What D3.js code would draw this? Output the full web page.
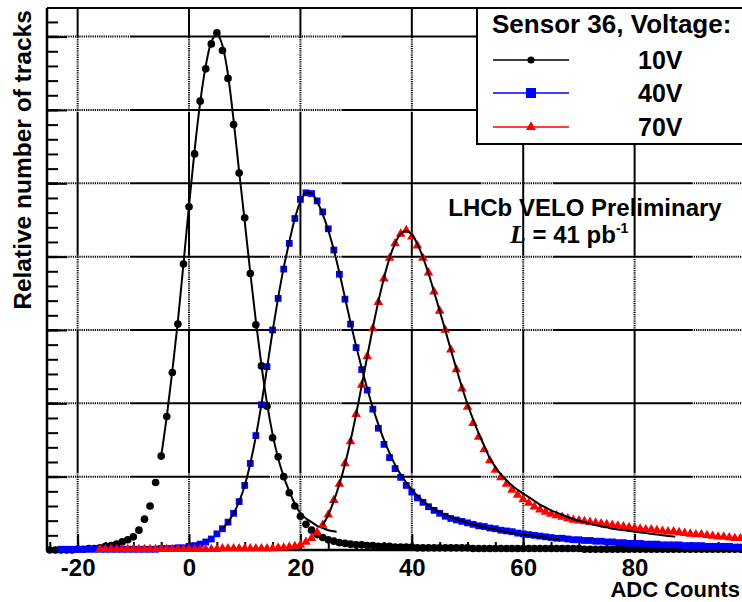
<!DOCTYPE html>
<html>
<head>
<meta charset="utf-8">
<script src="https://cdn.jsdelivr.net/npm/d3@7"></script>
<style>
  body { margin: 0; background: #fff; }
  svg { display: block; }
  text { font-family: "Liberation Sans", Arial, Helvetica, sans-serif; font-weight: bold; fill: #000; }
</style>
</head>
<body>
<svg id="chart"></svg>
<script>

// ---- data, one bin per ADC count ----
var bins10 = d3.range(-25, 100);   // 10V histogram starts at -25
var bins40 = d3.range(-23, 100);   // 40V starts at -23
var bins70 = d3.range(-16, 100);   // 70V starts at -16

var counts10 = [
  0.00, 0.00, 0.00, 0.00, 0.00, 0.01, 0.01, 0.02, 0.02, 0.03,   // -25..-16
  0.05, 0.06, 0.08, 0.11, 0.14, 0.18, 0.27, 0.42, 0.60, 0.92,   // -15..-6
  1.28, 1.82, 2.42, 3.08, 3.90, 4.68, 5.40, 6.12, 6.56, 6.90,   // -5..4
  7.05, 6.81, 6.43, 5.80, 5.14, 4.53, 3.77, 3.07, 2.51, 1.96,   // 5..14
  1.53, 1.27, 1.00, 0.78, 0.60, 0.46, 0.35, 0.27, 0.21, 0.17,   // 15..24
  0.14, 0.12, 0.10, 0.09, 0.08, 0.07, 0.07, 0.06, 0.06, 0.05,   // 25..34
  0.05, 0.05, 0.04, 0.04, 0.04, 0.04, 0.03, 0.03, 0.03, 0.03,   // 35..44
  0.03, 0.03, 0.03, 0.03, 0.03, 0.03, 0.02, 0.02, 0.02, 0.02,   // 45..54
  0.02, 0.02, 0.02, 0.02, 0.02, 0.02, 0.02, 0.02, 0.02, 0.02,   // 55..64
  0.02, 0.02, 0.02, 0.02, 0.02, 0.02, 0.01, 0.01, 0.01, 0.01,   // 65..74
  0.01, 0.01, 0.01, 0.01, 0.01, 0.01, 0.01, 0.01, 0.01, 0.01,   // 75..84
  0.01, 0.01, 0.01, 0.01, 0.01, 0.01, 0.01, 0.01, 0.01, 0.01,   // 85..94
  0.01, 0.01, 0.01, 0.01, 0.01                                  // 95..99
];

var counts40 = [
  0.01, 0.01, 0.01, 0.01, 0.01, 0.01, 0.01, 0.01,               // -23..-16
  0.01, 0.01, 0.01, 0.01, 0.01, 0.01, 0.01, 0.01, 0.01, 0.01,   // -15..-6
  0.02, 0.02, 0.02, 0.03, 0.03, 0.05, 0.06, 0.08, 0.11, 0.15,   // -5..4
  0.22, 0.29, 0.38, 0.50, 0.66, 0.88, 1.18, 1.56, 1.98, 2.50,   // 5..14
  3.00, 3.43, 3.83, 4.18, 4.52, 4.78, 4.87, 4.86, 4.76, 4.61,   // 15..24
  4.38, 4.09, 3.76, 3.42, 3.08, 2.76, 2.46, 2.18, 1.92, 1.66,   // 25..34
  1.44, 1.26, 1.11, 0.99, 0.88, 0.79, 0.71, 0.65, 0.59, 0.54,   // 35..44
  0.50, 0.46, 0.43, 0.41, 0.39, 0.37, 0.35, 0.33, 0.32, 0.30,   // 45..54
  0.29, 0.27, 0.26, 0.25, 0.23, 0.22, 0.21, 0.20, 0.19, 0.18,   // 55..64
  0.17, 0.16, 0.16, 0.15, 0.14, 0.14, 0.13, 0.13, 0.12, 0.12,   // 65..74
  0.11, 0.11, 0.10, 0.10, 0.09, 0.09, 0.09, 0.08, 0.08, 0.08,   // 75..84
  0.07, 0.07, 0.07, 0.07, 0.06, 0.06, 0.06, 0.06, 0.05, 0.05,   // 85..94
  0.05, 0.05, 0.05, 0.04, 0.04                                  // 95..99
];

var counts70 = [
  0.01,                                                         // -16
  0.01, 0.01, 0.01, 0.01, 0.01, 0.01, 0.01, 0.01, 0.01, 0.01,   // -15..-6
  0.01, 0.01, 0.01, 0.01, 0.01, 0.01, 0.01, 0.01, 0.01, 0.01,   // -5..4
  0.01, 0.02, 0.02, 0.02, 0.02, 0.02, 0.02, 0.02, 0.02, 0.02,   // 5..14
  0.02, 0.03, 0.03, 0.04, 0.05, 0.07, 0.11, 0.16, 0.24, 0.34,   // 15..24
  0.48, 0.68, 0.90, 1.18, 1.48, 1.85, 2.25, 2.64, 3.02, 3.38,   // 25..34
  3.70, 3.98, 4.18, 4.31, 4.36, 4.27, 4.15, 3.98, 3.78, 3.52,   // 35..44
  3.26, 3.00, 2.73, 2.46, 2.20, 1.95, 1.73, 1.54, 1.37, 1.22,   // 45..54
  1.09, 0.99, 0.90, 0.82, 0.75, 0.69, 0.64, 0.59, 0.55, 0.52,   // 55..64
  0.49, 0.47, 0.45, 0.43, 0.41, 0.40, 0.39, 0.38, 0.37, 0.36,   // 65..74
  0.35, 0.34, 0.33, 0.32, 0.31, 0.30, 0.29, 0.28, 0.28, 0.27,   // 75..84
  0.26, 0.25, 0.25, 0.24, 0.23, 0.22, 0.21, 0.21, 0.20, 0.19,   // 85..94
  0.18, 0.18, 0.17, 0.16, 0.16                                  // 95..99
];

// fitted curves (black lines)
var fit10X = d3.range(-5, 27).concat([26.5]);
var fit10Y = [
  1.28, 1.82, 2.44, 3.12, 3.90, 4.70, 5.45, 6.10, 6.60, 6.93,
  7.02, 6.88, 6.48, 5.86, 5.16, 4.48, 3.78, 3.12, 2.52, 2.00,
  1.58, 1.25, 1.00, 0.80, 0.63, 0.50, 0.43, 0.38, 0.33, 0.30,
  0.27, 0.255, 0.25
];
var fit40X = d3.range(6, 67).concat([66.6]);
var fit40Y = [
  0.29, 0.38, 0.50, 0.66, 0.88, 1.18, 1.55, 1.99, 2.48, 2.98,
  3.44, 3.85, 4.20, 4.52, 4.75, 4.87, 4.86, 4.75, 4.58, 4.36,
  4.09, 3.78, 3.44, 3.10, 2.78, 2.48, 2.20, 1.94, 1.71, 1.50,
  1.32, 1.16, 1.03, 0.92, 0.82, 0.74, 0.67, 0.61, 0.56, 0.52,
  0.48, 0.45, 0.42, 0.40, 0.37, 0.35, 0.33, 0.31, 0.30, 0.28,
  0.26, 0.25, 0.24, 0.22, 0.21, 0.20, 0.19, 0.18, 0.17, 0.16,
  0.15, 0.14
];
var fit70X = d3.range(24, 88).concat([87.3]);
var fit70Y = [
  0.34, 0.48, 0.67, 0.90, 1.17, 1.49, 1.85, 2.24, 2.64, 3.03,
  3.39, 3.71, 3.98, 4.18, 4.31, 4.35, 4.30, 4.17, 3.99, 3.77,
  3.52, 3.26, 3.00, 2.73, 2.47, 2.22, 1.99, 1.78, 1.59, 1.42,
  1.25, 1.13, 1.03, 0.95, 0.88, 0.82, 0.77, 0.72, 0.67, 0.62,
  0.58, 0.54, 0.51, 0.48, 0.45, 0.42, 0.40, 0.38, 0.36, 0.34,
  0.32, 0.31, 0.29, 0.28, 0.27, 0.26, 0.25, 0.24, 0.23, 0.22,
  0.21, 0.20, 0.19, 0.185, 0.18
];

// axis ticks and texts
var xMajorTicks = [-20, 0, 20, 40, 60, 80];
var xMinorTicks = d3.range(-25, 101, 5);
var yMajorTicks = d3.range(0, 8);
var yMinorTicks = d3.range(0, 7.4, 0.2);
var legendTitle = "Sensor 36, Voltage:";
var legendLabels = ["10V", "40V", "70V"];

// set the dimensions of the frame
var width = 742, height = 602;
var frame = {left: 47, top: 8, bottom: 550};

var svg = d3.select("#chart")
    .attr("width", width)
    .attr("height", height);

// set the ranges
var x = d3.scaleLinear().domain([-25.5, 100]).range([frame.left, 746]);
var y = d3.scaleLinear().domain([0, 7.39]).range([frame.bottom, frame.top]);

// dash pattern of the grid: long solid piece, then a run of dots
function gridDash(solid, dots) {
  var a = [solid, 1];
  for (var i = 0; i < dots; i++) a.push(1.2, 1.0);
  return a.join(" ");
}

// grid lines
svg.append("g").selectAll("line")
    .data(yMajorTicks.filter(function(d) { return d > 0; }))
  .enter().append("line")
    .attr("x1", frame.left).attr("x2", width)
    .attr("y1", function(d) { return y(d); })
    .attr("y2", function(d) { return y(d); })
    .attr("stroke", "#000").attr("stroke-width", 2)
    .attr("stroke-dasharray", gridDash(140, 32))
    .attr("stroke-dashoffset", 128.4);

svg.append("g").selectAll("line")
    .data(xMajorTicks)
  .enter().append("line")
    .attr("x1", function(d) { return x(d); })
    .attr("x2", function(d) { return x(d); })
    .attr("y1", frame.bottom).attr("y2", frame.top)
    .attr("stroke", "#000").attr("stroke-width", 2)
    .attr("stroke-dasharray", gridDash(144, 33))
    .attr("stroke-dashoffset", 141);

// ticks (drawn inside the frame)
function styleAxis(g) {
  g.select(".domain").remove();
  g.selectAll("line").attr("stroke", "#000").attr("stroke-width", 2);
}

svg.append("g")
    .attr("transform", "translate(" + frame.left + ",0)")
    .call(d3.axisLeft(y).tickValues(yMinorTicks).tickSize(-11).tickFormat(""))
    .call(styleAxis);
svg.append("g")
    .attr("transform", "translate(" + frame.left + ",0)")
    .call(d3.axisLeft(y).tickValues(yMajorTicks).tickSize(-20).tickFormat(""))
    .call(styleAxis);

svg.append("g")
    .attr("transform", "translate(0," + frame.bottom + ")")
    .call(d3.axisBottom(x).tickValues(xMinorTicks).tickSize(-8).tickFormat(""))
    .call(styleAxis);
var xAxis = svg.append("g")
    .attr("transform", "translate(0," + frame.bottom + ")")
    .call(d3.axisBottom(x).tickValues(xMajorTicks).tickSize(-16).tickPadding(9)
      .tickFormat(function(d) { return d; }))
    .call(styleAxis);
xAxis.selectAll("text")
    .attr("font-size", 24)
    .attr("font-family", "'Liberation Sans', Arial, sans-serif")
    .attr("font-weight", "bold")
    .attr("fill", "#000");

// frame
svg.append("line")
    .attr("x1", frame.left).attr("x2", frame.left)
    .attr("y1", frame.top).attr("y2", frame.bottom + 1)
    .attr("stroke", "#000").attr("stroke-width", 2.5);
svg.append("line")
    .attr("x1", frame.left).attr("x2", width)
    .attr("y1", frame.bottom).attr("y2", frame.bottom)
    .attr("stroke", "#000").attr("stroke-width", 2.5);
svg.append("line")
    .attr("x1", frame.left).attr("x2", width)
    .attr("y1", frame.top).attr("y2", frame.top)
    .attr("stroke", "#000").attr("stroke-width", 2);

// markers + fits
var series = [
  {bins: bins10, counts: counts10, fx: fit10X, fy: fit10Y, color: "#000000", symbol: d3.symbolCircle, size: 46},
  {bins: bins40, counts: counts40, fx: fit40X, fy: fit40Y, color: "#0000ff", symbol: d3.symbolSquare, size: 46},
  {bins: bins70, counts: counts70, fx: fit70X, fy: fit70Y, color: "#ff0000", symbol: d3.symbolTriangle, size: 40}
];

var fitLine = d3.line()
    .x(function(d) { return x(d[0]); })
    .y(function(d) { return y(d[1]); })
    .curve(d3.curveMonotoneX);

series.forEach(function(s) {
  svg.append("g").selectAll("path")
      .data(d3.zip(s.bins, s.counts))
    .enter().append("path")
      .attr("d", d3.symbol().type(s.symbol).size(s.size))
      .attr("transform", function(d) { return "translate(" + x(d[0]) + "," + y(d[1]) + ")"; })
      .attr("fill", s.color);

  svg.append("path")
      .datum(d3.zip(s.fx, s.fy))
      .attr("d", fitLine)
      .attr("fill", "none")
      .attr("stroke", "#000")
      .attr("stroke-width", 2);
});

// legend
var legend = svg.append("g");
legend.append("rect")
    .attr("x", 477).attr("y", frame.top)
    .attr("width", 300).attr("height", 136)
    .attr("fill", "#fff").attr("stroke", "#000").attr("stroke-width", 2);
legend.append("text")
    .attr("x", 492).attr("y", 33)
    .attr("font-size", 26)
    .text(legendTitle);

var rowY = [60, 93, 127];
var legendSizes = [40, 100, 44];
legendLabels.forEach(function(label, i) {
  legend.append("line")
      .attr("x1", 493).attr("x2", 569)
      .attr("y1", rowY[i]).attr("y2", rowY[i])
      .attr("stroke", series[i].color).attr("stroke-width", 1.5);
  legend.append("path")
      .attr("d", d3.symbol().type(series[i].symbol).size(legendSizes[i]))
      .attr("transform", "translate(531," + rowY[i] + ")")
      .attr("fill", series[i].color);
  legend.append("text")
      .attr("x", 638).attr("y", rowY[i] + 9)
      .attr("font-size", 25)
      .text(label);
});

// annotation
svg.append("text")
    .attr("x", 585).attr("y", 216)
    .attr("text-anchor", "middle")
    .attr("font-size", 24)
    .text("LHCb VELO Preliminary");
var lumi = svg.append("text")
    .attr("x", 510).attr("y", 243)
    .attr("font-size", 24);
lumi.append("tspan")
    .attr("font-family", "'Liberation Serif', 'Times New Roman', serif")
    .attr("font-style", "italic")
    .attr("font-size", 26)
    .text("L");
lumi.append("tspan").text(" = 41 pb");
lumi.append("tspan")
    .attr("font-size", 14)
    .attr("dy", -10)
    .text("-1");

// axis titles
svg.append("text")
    .attr("x", 740).attr("y", 597)
    .attr("text-anchor", "end")
    .attr("font-size", 22)
    .text("ADC Counts");
svg.append("text")
    .attr("transform", "translate(31,160) rotate(-90)")
    .attr("text-anchor", "middle")
    .attr("font-size", 24.5)
    .text("Relative number of tracks");

</script>
</body>
</html>
